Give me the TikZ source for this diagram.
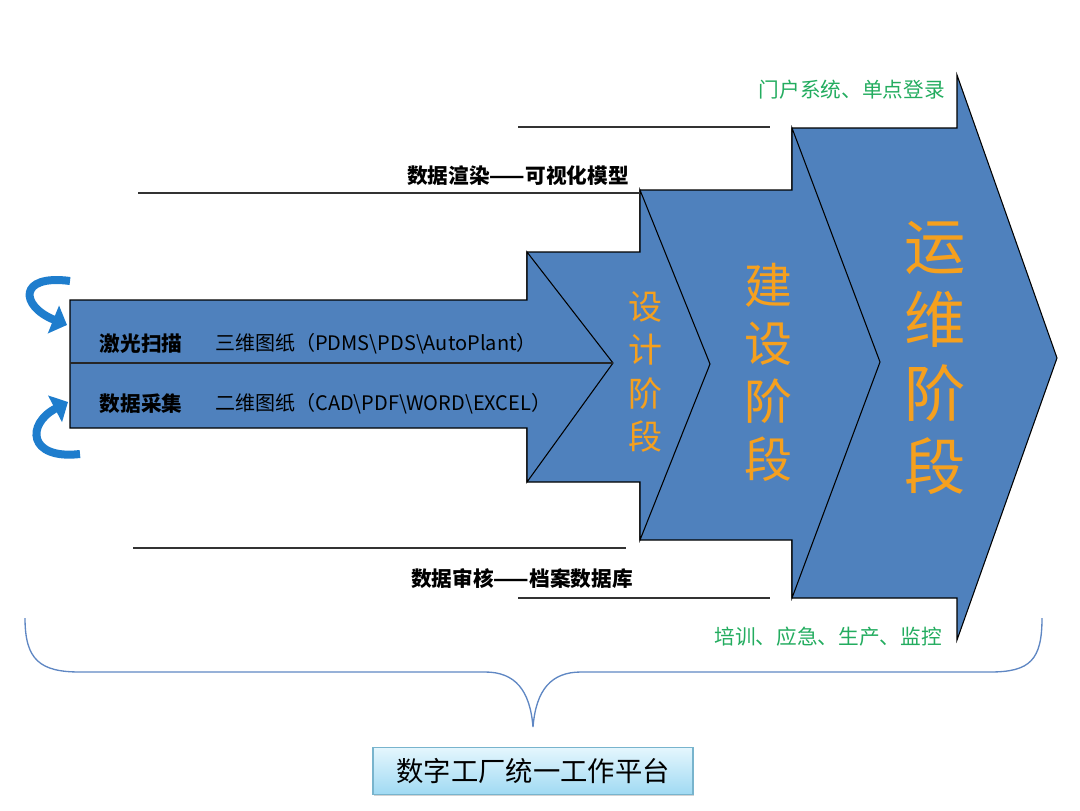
\documentclass[tikz,border=0pt]{standalone}
\usepackage{fontspec}
\setmainfont{Noto Sans CJK SC}
\usetikzlibrary{arrows.meta,shadows}
\definecolor{arrowblue}{HTML}{4F81BD}
\definecolor{stageorange}{RGB}{245,160,30}
\definecolor{notegreen}{RGB}{35,172,95}
\definecolor{curveblue}{RGB}{30,125,205}
\definecolor{bracecol}{RGB}{95,135,195}
\definecolor{boxtop}{RGB}{228,246,253}
\definecolor{boxbottom}{RGB}{160,218,243}
\definecolor{boxedge}{RGB}{120,180,205}
\begin{document}
\begin{tikzpicture}[x=0.75pt,y=-0.75pt,
  stagearrow/.style={fill=arrowblue, draw=black, line width=0.8pt, line join=miter},
  rule/.style={draw=black!80, line width=1.1pt},
  midline/.style={draw=black!85, line width=1pt},
  blabel/.style={font=\fontsize{15.5}{18}\selectfont\bfseries, text=black, inner sep=0pt},
  source/.style={font=\fontsize{15}{18}\selectfont, text=black, inner sep=0pt, anchor=west},
  note/.style={font=\fontsize{15.5}{18}\selectfont, text=notegreen, inner sep=0pt, anchor=east},
  stage/.style={text=stageorange, align=center, inner sep=0pt},
  curvearrow/.style={draw=curveblue, line width=6pt, -{Triangle[length=11pt,width=22pt]}},
  brace/.style={draw=bracecol, line width=1pt},
  platform/.style={draw=boxedge, line width=0.8pt, top color=boxtop, bottom color=boxbottom,
    drop shadow={shadow xshift=1pt, shadow yshift=-1.5pt, opacity=0.35},
    minimum width=240pt, minimum height=35pt, inner sep=0pt,
    font=\fontsize{20.5}{24}\selectfont}
]
\useasboundingbox (0,0) rectangle (1080,810);

% stage arrows, back to front
\draw[stagearrow] (792,128) -- (957,128) -- (957,75) -- (1057,358) -- (957,640) -- (957,598) -- (792,598) -- cycle;
\draw[stagearrow] (640,190) -- (792,190) -- (792,128) -- (880,362) -- (792,598) -- (792,540) -- (640,540) -- cycle;
\draw[stagearrow] (527,252) -- (640,252) -- (640,190) -- (710,364) -- (640,540) -- (640,482) -- (527,482) -- cycle;
\draw[stagearrow] (70,300) -- (527,300) -- (527,252) -- (613,363) -- (527,482) -- (527,428) -- (70,428) -- cycle;
\coordinate (midL) at (70,363);
\coordinate (midR) at (613,363);
\draw[midline] (midL) -- (midR);

% curved arrows
\draw[curvearrow] (70,281) .. controls (18,274) and (20,306) .. (67,325);
\draw[curvearrow] (80,454) .. controls (28,460) and (26,424) .. (68,402);

% texts in first arrow
\node[blabel] (scan) at (141,344) {激光扫描};
\node[blabel] (collect) at (141,404) {数据采集};
\node[source] (src3d) at (215,344) {三维图纸（PDMS\textbackslash PDS\textbackslash AutoPlant）};
\node[source] (src2d) at (215,404) {二维图纸（CAD\textbackslash PDF\textbackslash WORD\textbackslash EXCEL）};

% stage labels
\node[stage, font=\fontsize{25.5}{32.5}\selectfont] (design) at (645,372) {设\\计\\阶\\段};
\node[stage, font=\fontsize{36}{43.5}\selectfont] (build) at (768,372) {建\\设\\阶\\段};
\node[stage, font=\fontsize{46}{55}\selectfont] (operate) at (935,358) {运\\维\\阶\\段};

% rules and captions
\coordinate (r1a) at (518,127); \coordinate (r1b) at (770,127);
\coordinate (r2a) at (138,193); \coordinate (r2b) at (640,193);
\coordinate (r3a) at (133,548); \coordinate (r3b) at (626,548);
\coordinate (r4a) at (518,598); \coordinate (r4b) at (770,598);
\draw[rule] (r1a) -- (r1b);
\draw[rule] (r2a) -- (r2b);
\draw[rule] (r3a) -- (r3b);
\draw[rule] (r4a) -- (r4b);
\node[blabel, anchor=east] (render) at (629,176) {数据渲染——可视化模型};
\node[blabel, anchor=east] (audit) at (633,579) {数据审核——档案数据库};
\node[note] (portal) at (945,90) {门户系统、单点登录};
\node[note] (train) at (942,637) {培训、应急、生产、监控};

% brace
\draw[brace] (25,618) .. controls (25,660) and (40,672) .. (80,672) -- (485,672)
  .. controls (515,672) and (530,690) .. (533,727)
  .. controls (536,690) and (551,672) .. (581,672) -- (990,672)
  .. controls (1030,672) and (1042,660) .. (1042,618);

% platform box
\node[platform] (platform) at (533,771) {数字工厂统一工作平台};
\end{tikzpicture}
\end{document}
